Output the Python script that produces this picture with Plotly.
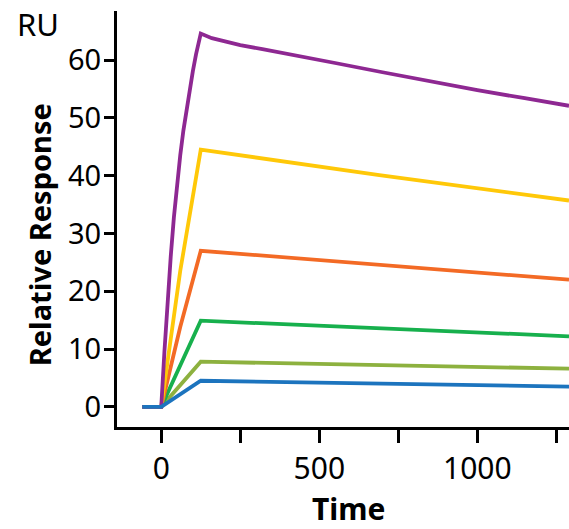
import plotly.graph_objects as go

# Sensorgram data (time, response)
t_purple = [-60, 0, 10, 20, 30, 40, 50, 60, 70, 80, 90, 100, 110, 125,
            160, 200, 250, 320, 400, 550, 700, 850, 1000, 1150, 1290]
r_purple = [0, 0, 9.5, 18.2, 26.0, 32.8, 38.5, 43.5, 47.8, 51.6, 55.0, 58.1, 61.0, 64.6,
            63.8, 63.2, 62.6, 61.9, 61.1, 59.5, 57.9, 56.3, 54.8, 53.4, 52.1]

t_yellow = [-60, 0, 60, 125, 690, 1290]
r_yellow = [0, 0, 23.5, 44.5, 40.1, 35.7]

t_orange = [-60, 0, 60, 125, 1290]
r_orange = [0, 0, 13.8, 27.0, 22.0]

t_green = [-60, 0, 125, 1290]
r_green = [0, 0, 14.9, 12.2]

t_olive = [-60, 0, 125, 1290]
r_olive = [0, 0, 7.8, 6.6]

t_blue = [-60, 0, 125, 1290]
r_blue = [0, 0, 4.5, 3.5]

x_tickvals = [0, 250, 500, 750, 1000, 1250]
x_ticktext = ["0", "", "500", "", "1000", ""]
y_tickvals = [0, 10, 20, 30, 40, 50, 60]

series = [
    (t_olive, r_olive, "#8DB13F"),
    (t_green, r_green, "#17B04D"),
    (t_orange, r_orange, "#F36A25"),
    (t_yellow, r_yellow, "#FFC808"),
    (t_purple, r_purple, "#8E2892"),
    (t_blue, r_blue, "#1C74BE"),
]

fig = go.Figure()
for tx, ry, col in series:
    fig.add_trace(go.Scatter(x=tx, y=ry, mode="lines",
                             line=dict(color=col, width=3.8),
                             showlegend=False, hoverinfo="skip"))

FONT = "Noto Sans"
fig.update_layout(
    width=569, height=529,
    margin=dict(l=117, r=0, t=11, b=102),
    paper_bgcolor="white", plot_bgcolor="white",
    font=dict(family=FONT, size=30, color="black"),
)
fig.update_xaxes(
    range=[-140, 1290], showgrid=False, zeroline=False,
    showline=True, linecolor="black", linewidth=3,
    ticks="outside", ticklen=13, tickwidth=2.5, tickcolor="black",
    tickvals=x_tickvals, ticktext=x_ticktext,
    tickfont=dict(family=FONT, size=30), ticklabelstandoff=0,
)
fig.update_yaxes(
    range=[-3.5, 68.5], showgrid=False, zeroline=False,
    showline=True, linecolor="black", linewidth=3,
    ticks="outside", ticklen=10, tickwidth=2.5, tickcolor="black",
    tickvals=y_tickvals,
    tickfont=dict(family=FONT, size=29), ticklabelstandoff=-3,
)

fig.add_annotation(text="<b>Relative Response</b>", xref="paper", yref="paper",
                   x=-0.172, y=0.4615, textangle=-90, showarrow=False,
                   xanchor="center", yanchor="middle",
                   font=dict(family=FONT, size=29, color="black"))
fig.add_annotation(text="<b>Time</b>", xref="paper", yref="paper",
                   x=0.513, y=-0.195, showarrow=False,
                   xanchor="center", yanchor="middle",
                   font=dict(family=FONT, size=30, color="black"))
fig.add_annotation(text="RU", xref="paper", yref="paper",
                   x=-0.175, y=0.968, showarrow=False,
                   xanchor="center", yanchor="middle",
                   font=dict(family=FONT, size=31, color="black"))

fig.write_html("out.html")
